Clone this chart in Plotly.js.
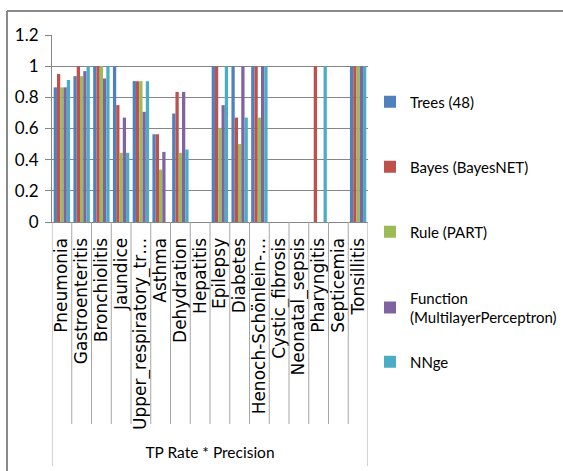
<!DOCTYPE html>
<html>
<head>
<meta charset="utf-8">
<script src="https://cdn.plot.ly/plotly-3.0.1.min.js"></script>
<style>html,body{margin:0;padding:0;background:#fff;}#chart{width:563px;height:471px;}</style>
</head>
<body>
<div id="chart"></div>
<script>
const categories = ["Pneumonia","Gastroenteritis","Bronchiolitis","Jaundice","Upper_respiratory_tr…","Asthma","Dehydration","Hepatitis","Epilepsy","Diabetes","Henoch-Schönlein-…","Cystic_fibrosis","Neonatal_sepsis","Pharyngitis","Septicemia","Tonsillitis"];
const seriesNames = ["Trees (48)","Bayes (BayesNET)","Rule (PART)","Function<br>(MultilayerPerceptron)","NNge"];
const trees    = [0.864,0.936,1,1,0.904,0.563,0.696,0,1,1,1,0,0,0,0,1];
const bayes    = [0.949,1,1,0.75,0.904,0.563,0.835,0,1,0.67,1,0,0,1,0,1];
const rule     = [0.864,0.936,1,0.444,0.904,0.336,0.444,0,0.604,0.5,0.67,0,0,0,0,1];
const func     = [0.864,0.968,0.921,0.67,0.707,0.45,0.835,0,0.75,1,1,0,0,0,0,1];
const nnge     = [0.911,1,1,0.444,0.904,0,0.465,0,1,0.67,1,0,0,1,0,1];
const colors = ["#4F81BD","#C0504D","#9BBB59","#8064A2","#4BACC6"];
const values = [trees,bayes,rule,func,nnge];
const xTitle = "TP Rate * Precision";
const yTicks = [0,0.2,0.4,0.6,0.8,1,1.2];

const legendIds = ["legend","legend2","legend3","legend4","legend5"];
const traces = values.map((v,i)=>({
  type:"bar", x:categories, y:v, name:seriesNames[i], legend:legendIds[i], showlegend:true,
  marker:{color:colors[i], line:{width:0}}
}));

const L=52, R=368, T=35, B=222, W=563, H=471;
const pw=R-L, ph=B-T;
const px=(p)=>(p-L)/pw, py=(p)=>(B-p)/ph;

const shapes=[];
const n=categories.length;
for(let i=0;i<=n;i++){
  const outer=(i===0||i===n);
  shapes.push({type:"line", xref:"x", yref:"paper", x0:i-0.5, x1:i-0.5, y0:0, y1:py(outer?466:424),
    line:{color:"#A6A6A6", width:1}});
}
shapes.push({type:"line", xref:"paper", yref:"paper", x0:px(7), x1:px(563), y0:py(11), y1:py(11), line:{color:"#8A8A8A", width:2}});
shapes.push({type:"line", xref:"paper", yref:"paper", x0:px(7), x1:px(7), y0:py(11), y1:py(471), line:{color:"#8A8A8A", width:2}});

const legendCenters = [102,167,232,307.5,362];
const layout={
  width:W, height:H, showlegend:true,
  margin:{l:L, r:W-R, t:T, b:H-B, pad:0, autoexpand:false},
  paper_bgcolor:"#fff", plot_bgcolor:"#fff",
  barmode:"group", bargap:0.17, bargroupgap:0,
  xaxis:{type:"category", range:[-0.5,n-0.5], tickangle:-90, showgrid:false, showline:true, linecolor:"#868686", linewidth:1,
    tickmode:"array", tickvals:categories, ticktext:categories,
    ticks:"", tickfont:{family:"DejaVu Sans", size:17, color:"#000"}, automargin:false, ticklabelstandoff:8,
    title:{text:xTitle, font:{family:"Lato", size:15.5, color:"#000"}, standoff:18}},
  yaxis:{range:[0,1.2], tickvals:yTicks, ticktext:yTicks.map(v=>String(v)), showgrid:true, gridcolor:"#868686", gridwidth:1,
    showline:true, linecolor:"#868686", ticks:"outside", ticklen:6, tickcolor:"#868686", zeroline:false,
    tickfont:{family:"Lato", size:17, color:"#000"}, automargin:false, ticklabelstandoff:3},
  shapes:shapes
};
legendIds.forEach((id,i)=>{
  layout[id]={visible:true, x:px(370), xanchor:"left", y:py(legendCenters[i]), yanchor:"middle",
    font:{family:"Lato", size:15, color:"#000"}, itemwidth:30, bgcolor:"rgba(0,0,0,0)", borderwidth:0};
});
Plotly.newPlot("chart", traces, layout, {displayModeBar:false, staticPlot:true});
</script>
</body>
</html>
